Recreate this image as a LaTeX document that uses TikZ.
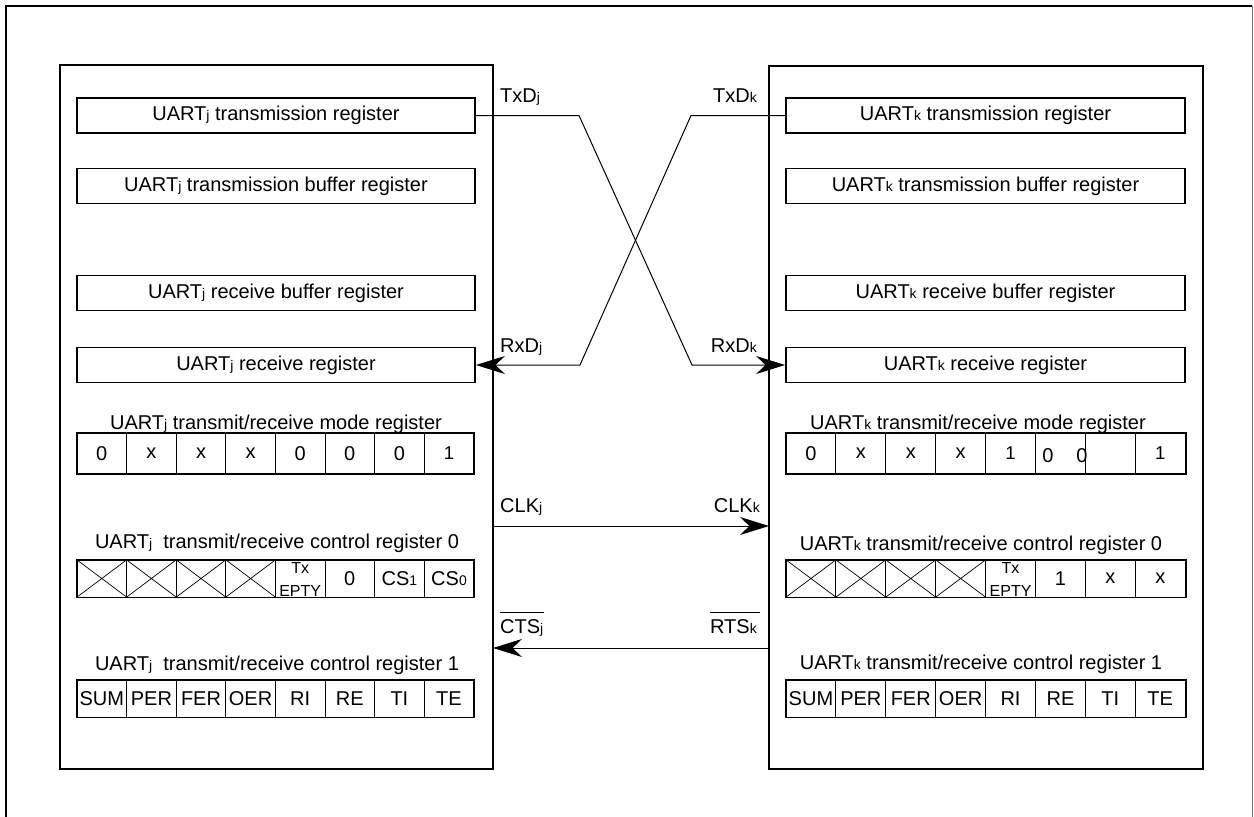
\documentclass[tikz,border=0pt]{standalone}
\usepackage{fontspec}
\setmainfont{Liberation Sans}
\usetikzlibrary{arrows.meta}
\newcommand{\sbs}[1]{{\fontsize{14}{14}\selectfont #1}}
\newcommand{\sj}{\sbs{j}}
\newcommand{\sk}{\sbs{k}}
\newcommand{\one}{{\fontsize{18.5}{18.5}\selectfont 1}}
\newcommand{\bitrow}[6]{% name, x0, ycenter, cellwidth, height, list
  \foreach \t [count=\i] in {#6} {
    \node[cell, minimum width=#4pt, minimum height=#5pt] (#1\i) at ({#2+(\i-0.5)*#4}, #3) {\t};
  }
  \draw[rowframe] (#11.north west) rectangle (#18.south east);
}
\begin{document}
\begin{tikzpicture}[x=1pt,y=-1pt,
  every node/.style={font=\fontsize{20}{22}\selectfont},
  bigbox/.style={draw, line width=2pt, inner sep=0pt},
  reg/.style={draw, line width=1.8pt, minimum height=35pt, inner sep=0pt},
  cell/.style={draw, line width=0.9pt, inner sep=0pt},
  rowframe/.style={line width=1.8pt},
  lbl/.style={inner sep=0pt},
  small/.style={inner sep=0pt, font=\fontsize{16}{16}\selectfont},
  sig/.style={line width=1pt},
  arr/.style={sig, -{Stealth[length=29pt,width=18pt]}},
  cross/.style={line width=0.7pt}
]
\useasboundingbox (0,0) rectangle (1254,817);
% outer frame
\draw[line width=2pt] (6,817) -- (6,6) -- (1252,6);
\draw[line width=1pt, black!55] (1252,6) -- (1252,817);

% big boxes
\node[bigbox, minimum width=433pt, minimum height=704pt] (jbig) at (276.5,417) {};
\node[bigbox, minimum width=434pt, minimum height=703pt] (kbig) at (986,417.5) {};

% left registers
\node[reg, minimum width=398pt] (jtr) at (276,115.5) {UART\sj{} transmission register};
\node[reg, minimum width=398pt] (jtb) at (276,186) {UART\sj{} transmission buffer register};
\node[reg, minimum width=398pt] (jrb) at (276,293) {UART\sj{} receive buffer register};
\node[reg, minimum width=398pt] (jrr) at (276,365) {UART\sj{} receive register};

% right registers
\node[reg, minimum width=399pt] (ktr) at (985.5,115.5) {UART\sk{} transmission register};
\node[reg, minimum width=399pt] (ktb) at (985.5,186) {UART\sk{} transmission buffer register};
\node[reg, minimum width=399pt] (krb) at (985.5,293) {UART\sk{} receive buffer register};
\node[reg, minimum width=399pt] (krr) at (985.5,365) {UART\sk{} receive register};

% left mode register
\node[lbl, anchor=base] (jml) at (276,429) {UART\sj{} transmit/receive mode register};
\bitrow{jm}{77}{453.5}{49.6}{40}{0,x,x,x,0,0,0,\one}
% left control register 0
\node[lbl, anchor=base] (jcl) at (277,548) {UART\sj{}\ \ transmit/receive control register 0};
\bitrow{jc}{77}{578.5}{49.6}{37}{,,,,,0,CS\sbs{1},CS\sbs{0}}
\foreach \i in {1,...,4} {
  \draw[cross] (jc\i.north west) -- (jc\i.south east) (jc\i.south west) -- (jc\i.north east);
}
\node[small, anchor=base] (jtx) at (jc5.center |- 0,573) {Tx};
\node[small, anchor=base] (jep) at (jc5.center |- 0,596) {EPTY};
% left control register 1
\node[lbl, anchor=base] (jdl) at (277,670) {UART\sj{}\ \ transmit/receive control register 1};
\bitrow{jd}{77}{698.5}{49.6}{37}{SUM,PER,FER,OER,RI,RE,TI,TE}

% right mode register
\node[lbl, anchor=base] (kml) at (978,429) {UART\sk{} transmit/receive mode register};
\bitrow{km}{786}{453.5}{49.9}{40}{0,x,x,x,\one,,,\one}
\node[lbl] (km6a) at (1048,456) {0};
\node[lbl] (km6b) at (1082,456) {0};
% right control register 0
\node[lbl, anchor=base] (kcl) at (981,550) {UART\sk{} transmit/receive control register 0};
\bitrow{kc}{786}{578.5}{49.9}{37}{,,,,,1,x,x}
\foreach \i in {1,...,4} {
  \draw[cross] (kc\i.north west) -- (kc\i.south east) (kc\i.south west) -- (kc\i.north east);
}
\node[small, anchor=base] (ktx) at (kc5.center |- 0,573) {Tx};
\node[small, anchor=base] (kep) at (kc5.center |- 0,596) {EPTY};
% right control register 1
\node[lbl, anchor=base] (kdl) at (981,669) {UART\sk{} transmit/receive control register 1};
\bitrow{kd}{786}{698.5}{49.9}{37}{SUM,PER,FER,OER,RI,RE,TI,TE}

% signal labels
\node[lbl, anchor=base west] (ltxj) at (500,102) {TxD\sj};
\node[lbl, anchor=base east] (ltxk) at (757,102) {TxD\sk};
\node[lbl, anchor=base west] (lrxj) at (500,352) {RxD\sj};
\node[lbl, anchor=base east] (lrxk) at (757,352) {RxD\sk};
\node[lbl, anchor=base west] (lclj) at (500,512) {CLK\sj};
\node[lbl, anchor=base east] (lclk) at (760,512) {CLK\sk};
\node[lbl, anchor=base west] (lcts) at (500,633) {CTS\sj};
\node[lbl, anchor=base east] (lrts) at (757,633) {RTS\sk};
\draw[sig] ([yshift=6pt]lcts.north west) -- ([yshift=6pt]lcts.north east);
\draw[sig] ([yshift=6pt]lrts.north west) -- ([xshift=3pt,yshift=6pt]lrts.north east);

% connectors
\coordinate (tja) at (579,115.5);
\coordinate (tjb) at (692,365);
\draw[arr] (jtr.east) -- (tja) -- (tjb) -- (krr.west);
\coordinate (tka) at (691,115.5);
\coordinate (tkb) at (580,365);
\draw[arr] (ktr.west) -- (tka) -- (tkb) -- (jrr.east);
\coordinate (clkj) at (493,526);
\coordinate (clkk) at (769,526);
\draw[arr] (clkj) -- (clkk);
\coordinate (rtsk) at (769,648);
\coordinate (ctsj) at (493,648);
\draw[arr] (rtsk) -- (ctsj);
\end{tikzpicture}
\end{document}
